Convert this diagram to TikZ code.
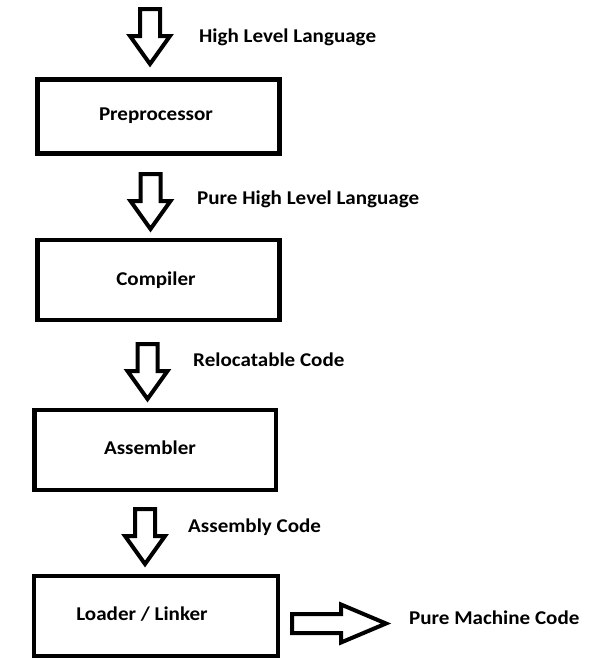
\documentclass[tikz,border=0pt]{standalone}
\usepackage{fontspec}
\setmainfont{Carlito}[FakeStretch=1.08]
\begin{document}
\begin{tikzpicture}[x=1pt,y=-1pt,
  blk/.style={draw=black,line width=4pt,fill=white},
  box/.style={draw=black,line width=4.5pt,rectangle,inner sep=0pt},
  txt/.style={font=\fontsize{19.5}{23}\selectfont\bfseries,inner sep=0pt,text=black},
  lbl/.style={txt,anchor=west},
  downarr/.pic={\draw[blk] (-10,0) -- (10,0) -- (10,27) -- (20,27) -- (0,55) -- (-20,27) -- (-10,27) -- cycle;},
  rightarr/.pic={\draw[blk] (0,-9.5) -- (49,-9.5) -- (49,-19) -- (94,0) -- (49,19) -- (49,9.5) -- (0,9.5) -- cycle;}
]
\useasboundingbox[fill=white] (0,0) rectangle (593,667);
% boxes
\node[box,minimum width=242pt,minimum height=74pt] (b1) at (158.5,116.5) {};
\node[box,minimum width=242pt,minimum height=80pt] (b2) at (158.5,280) {};
\node[box,minimum width=241.5pt,minimum height=80pt] (b3) at (155.25,450) {};
\node[box,minimum width=244pt,minimum height=80pt] (b4) at (156,616) {};
% box texts
\node[txt] (t1) at (156,115.5) {Preprocessor};
\node[txt] (t2) at (156,280) {Compiler};
\node[txt] (t3) at (150,448) {Assembler};
\node[txt] (t4) at (142,614) {Loader / Linker};
% block arrows
\pic at (150,9) {downarr};
\pic at (150.5,174) {downarr};
\pic at (147.5,344) {downarr};
\pic at (145,509) {downarr};
\pic at (292,623.5) {rightarr};
% labels
\node[lbl] (l1) at (199,37) {High Level Language};
\node[lbl] (l2) at (197,199) {Pure High Level Language};
\node[lbl] (l3) at (193,360) {Relocatable Code};
\node[lbl] (l4) at (188,527) {Assembly Code};
\node[lbl] (l5) at (409,618) {Pure Machine Code};
\end{tikzpicture}
\end{document}
